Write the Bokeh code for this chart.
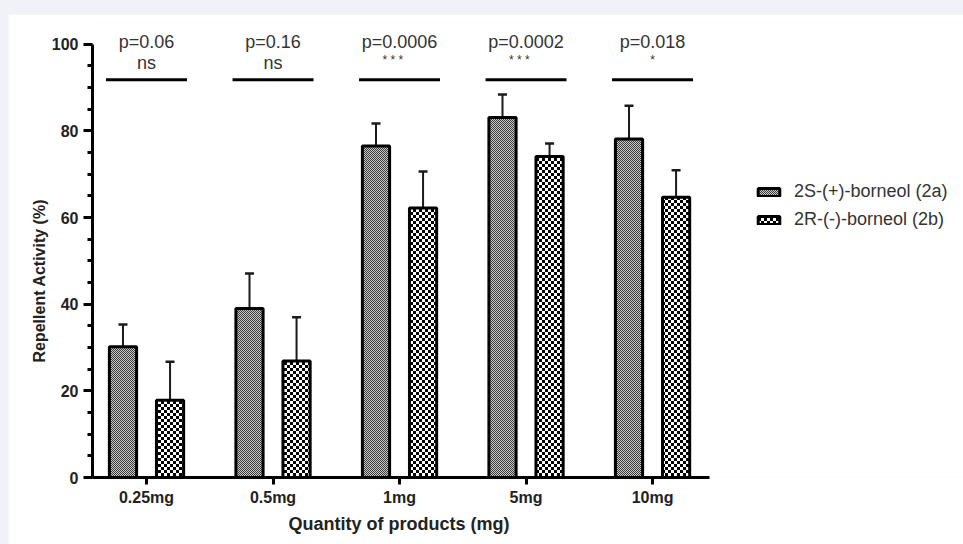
import zlib, struct, base64
from bokeh.plotting import figure
from bokeh.models import (ColumnDataSource, Range1d, FixedTicker, Whisker, TeeHead,
                          Legend, LegendItem, ImageURLTexture, Title)
from bokeh.core.properties import value
from bokeh.embed import file_html
from bokeh.resources import INLINE

# ---------------- data ----------------
categories = ["0.25mg", "0.5mg", "1mg", "5mg", "10mg"]
mean_2a = [30.2, 39.0, 76.5, 83.1, 78.1]
err_2a = [5.1, 8.1, 5.2, 5.3, 7.7]
mean_2b = [17.8, 26.9, 62.2, 74.1, 64.7]
err_2b = [8.9, 10.1, 8.4, 3.0, 6.2]
p_values = ["p=0.06", "p=0.16", "p=0.0006", "p=0.0002", "p=0.018"]
significance = ["ns", "ns", "* * *", "* * *", "*"]
series_labels = ["2S-(+)-borneol (2a)", "2R-(-)-borneol (2b)"]

FONT = "Liberation Sans"


def checker_png(cell, c1, c2):
    n = cell * 2
    raw = b""
    for yy in range(n):
        row = b"\x00"
        for xx in range(n):
            c = c1 if ((xx // cell) + (yy // cell)) % 2 == 0 else c2
            row += bytes(c)
        raw += row

    def chunk(tag, data):
        return (struct.pack(">I", len(data)) + tag + data +
                struct.pack(">I", zlib.crc32(tag + data) & 0xffffffff))
    png = (b"\x89PNG\r\n\x1a\n" +
           chunk(b"IHDR", struct.pack(">IIBBBBB", n, n, 8, 2, 0, 0, 0)) +
           chunk(b"IDAT", zlib.compress(raw)) + chunk(b"IEND", b""))
    return "data:image/png;base64," + base64.b64encode(png).decode()


tex_a = ImageURLTexture(url=checker_png(1, (60, 60, 60), (200, 200, 200)), repetition="repeat")
tex_b = ImageURLTexture(url=checker_png(3, (0, 0, 0), (255, 255, 255)), repetition="repeat")

idx = list(range(len(categories)))
off = 0.186
bw = 0.215

src_a = ColumnDataSource(dict(x=[i - off for i in idx], top=mean_2a,
                              upper=[m + e for m, e in zip(mean_2a, err_2a)],
                              lower=[m - e for m, e in zip(mean_2a, err_2a)]))
src_b = ColumnDataSource(dict(x=[i + off for i in idx], top=mean_2b,
                              upper=[m + e for m, e in zip(mean_2b, err_2b)],
                              lower=[m - e for m, e in zip(mean_2b, err_2b)]))

p = figure(width=955, height=530, output_backend="svg", toolbar_location=None,
           x_range=Range1d(-0.427, 6.458), y_range=Range1d(0, 105),
           min_border_left=84, min_border_right=0, min_border_top=8, min_border_bottom=67)
p.outline_line_color = None
p.grid.visible = False
p.background_fill_color = "white"
p.border_fill_color = "white"

ra = p.vbar(x="x", top="top", bottom=0, width=bw, source=src_a, fill_color="white",
            line_color="black", line_width=3, hatch_pattern=value("chka"),
            hatch_extra={"chka": tex_a})
rb = p.vbar(x="x", top="top", bottom=0, width=bw, source=src_b, fill_color="white",
            line_color="black", line_width=3, hatch_pattern=value("chkb"),
            hatch_extra={"chkb": tex_b})

for src in (src_a, src_b):
    w = Whisker(source=src, base="x", upper="upper", lower="lower",
                line_color="#1a1a1a", line_width=2,
                upper_head=TeeHead(size=9, line_width=2.5, line_color="#1a1a1a"),
                lower_head=TeeHead(size=9, line_width=2.5, line_color="#1a1a1a"))
    p.add_layout(w)

# significance annotations
ann = ColumnDataSource(dict(x=idx, x0=[i - 0.32 for i in idx], x1=[i + 0.32 for i in idx],
                            ptxt=p_values,
                            sig=[s.replace(" ", "   ") for s in significance],
                            sigsize=["18px" if s == "ns" else "12px" for s in significance],
                            sigy=[95.6 if s == "ns" else 96.3 for s in significance]))
p.segment(x0="x0", x1="x1", y0=91.8, y1=91.8, source=ann, line_color="black", line_width=3)
p.text(x="x", y=100.5, text="ptxt", source=ann, text_font=value(FONT), text_font_size="18px",
       text_color="#333333", text_align="center", text_baseline="middle")
p.text(x="x", y="sigy", text="sig", source=ann, text_font=value(FONT), text_font_size="sigsize",
       text_color="#333333", text_align="center", text_baseline="middle")

# axes
xa = p.xaxis[0]
xa.ticker = FixedTicker(ticks=idx)
xa.major_label_overrides = {i: c for i, c in zip(idx, categories)}
xa.bounds = (-0.427, 4.45)
xa.axis_line_width = 3
xa.axis_line_color = "black"
xa.major_tick_line_width = 3
xa.major_tick_out = 7
xa.major_tick_in = 0
xa.minor_tick_out = 0
xa.minor_tick_in = 0
xa.major_label_text_font = FONT
xa.major_label_text_font_style = "bold"
xa.major_label_text_font_size = "16px"
xa.major_label_text_color = "#222222"
xa.major_label_standoff = 4

ya = p.yaxis[0]
ya.ticker = FixedTicker(ticks=[0, 20, 40, 60, 80, 100],
                        minor_ticks=[v for v in range(0, 101, 5) if v % 20])
ya.bounds = (0, 100)
ya.axis_line_width = 3
ya.axis_line_color = "black"
ya.major_tick_line_width = 3
ya.major_tick_line_color = "black"
ya.major_tick_out = 9
ya.major_tick_in = 0
ya.minor_tick_line_width = 3
ya.minor_tick_line_color = "black"
ya.minor_tick_out = 5
ya.minor_tick_in = 0
ya.major_label_text_font = FONT
ya.major_label_text_font_style = "bold"
ya.major_label_text_font_size = "16px"
ya.major_label_text_color = "#222222"
ya.major_label_standoff = 5

ytitle = Title(text="Repellent Activity (%)", align="left", offset=115,
               text_font=FONT, text_font_style="bold", text_font_size="16px",
               text_color="#222222", standoff=2)
p.add_layout(ytitle, "left")

xtitle = Title(text="Quantity of products (mg)", align="left", offset=196,
               text_font=FONT, text_font_style="bold", text_font_size="18px",
               text_color="#222222", standoff=6)
p.add_layout(xtitle, "below")

legend = Legend(items=[LegendItem(label=series_labels[0], renderers=[ra]),
                       LegendItem(label=series_labels[1], renderers=[rb])],
                location=(663, 247), orientation="vertical",
                glyph_width=27, glyph_height=10, label_height=20, spacing=7,
                label_standoff=12, padding=0, margin=0,
                border_line_color=None, background_fill_alpha=0,
                label_text_font=FONT, label_text_font_size="18px", label_text_color="#333333")
p.add_layout(legend, "center")

html = file_html(p, INLINE)
css = ("<style>html{background:#f0f2f7;overflow:hidden;}"
       "body{background:#f0f2f7;margin:14px 0 0 8px !important;height:auto !important;}</style></head>")
html = html.replace("</head>", css, 1)
open("out.html", "w").write(html)
